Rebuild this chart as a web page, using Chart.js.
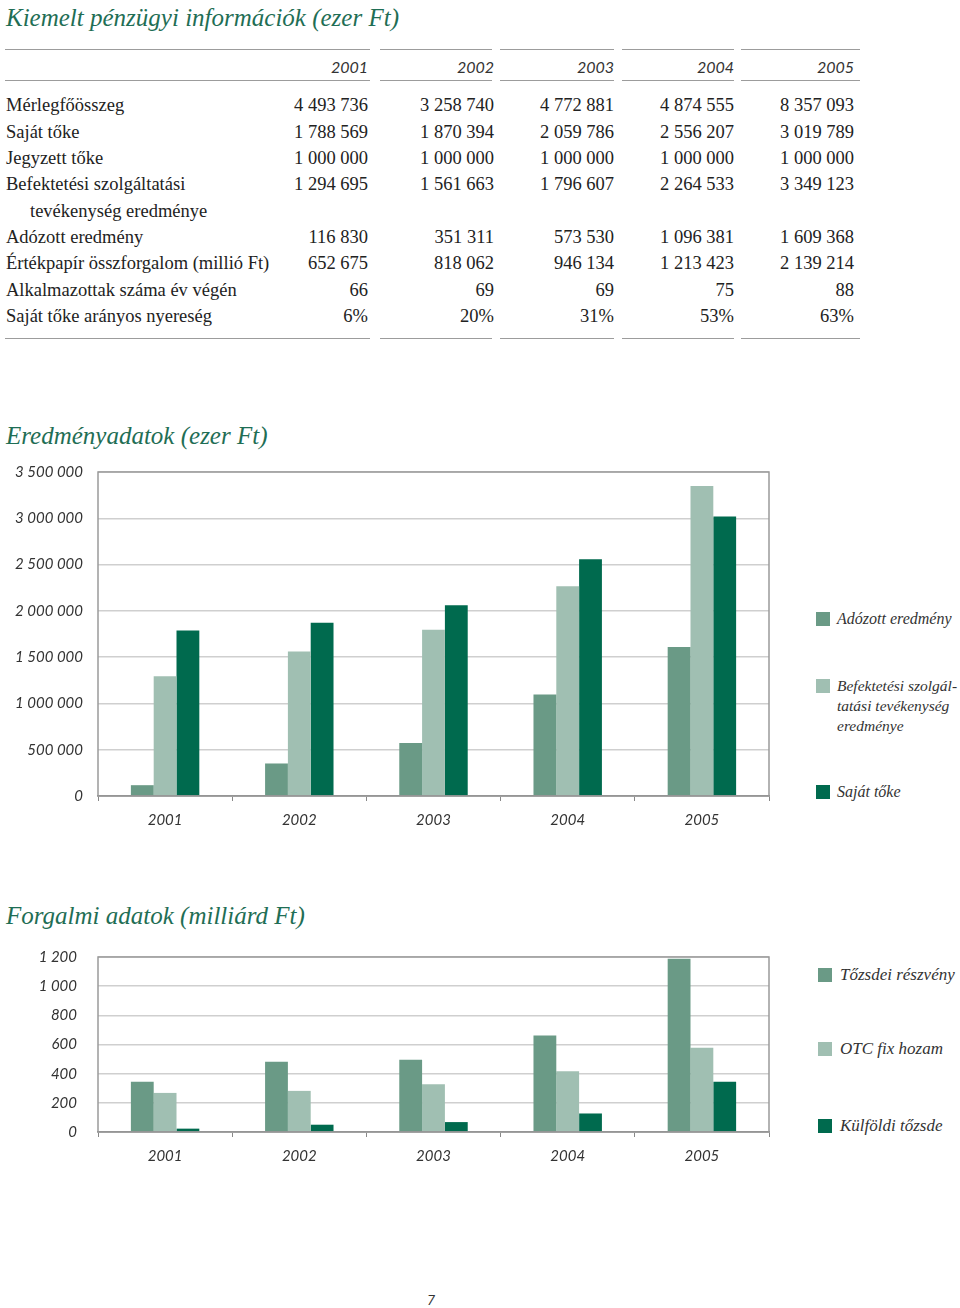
<!DOCTYPE html>
<html lang="hu">
<head>
<meta charset="utf-8">
<title>Kiemelt pénzügyi információk</title>
<script src="https://cdn.jsdelivr.net/npm/chart.js"></script>
<style>
    html, body { margin: 0; padding: 0; background: #fff; }
    #page { position: relative; width: 960px; height: 1308px; overflow: hidden; }
    .title {
        position: absolute; left: 6px; margin: 0;
        font-family: 'Liberation Serif', serif; font-style: italic; font-weight: normal;
        font-size: 25px; color: #1f6e55; line-height: 30px;
    }
    .rule { position: absolute; height: 0; border-top: 1.5px solid #9c9c9c; }
    .cell {
        position: absolute; font-family: 'Liberation Serif', serif; font-size: 18.5px;
        color: #222; line-height: 20px; white-space: nowrap;
    }
    .num { text-align: right; }
    .year {
        position: absolute; font-family: Lato, sans-serif; font-style: italic; font-size: 16px;
        color: #333; text-align: right; line-height: 20px;
    }
    .chartbox { position: absolute; left: 0; }
    .legend-item { position: absolute; font-family: 'Liberation Serif', serif; font-style: italic;
        font-size: 16px; color: #333; line-height: 20px; white-space: nowrap; }
    .legend-item span.sw { position: absolute; width: 14px; height: 14px; }
    #pageno { position: absolute; left: 427px; top: 1291px; font-family: Lato, sans-serif;
        font-style: italic; font-size: 14px; color: #333; }
</style>
</head>
<body>
<div id="page">
    <h1 class="title" style="top:3px">Kiemelt pénzügyi információk (ezer Ft)</h1>
    <div id="table"></div>

    <h1 class="title" style="top:421px">Eredményadatok (ezer Ft)</h1>
    <div class="chartbox" style="top:462px"><canvas id="eredmenyChart" width="780" height="372"></canvas></div>
    <div id="legend1"></div>

    <h1 class="title" style="top:901px">Forgalmi adatok (milliárd Ft)</h1>
    <div class="chartbox" style="top:947px"><canvas id="forgalomChart" width="780" height="223"></canvas></div>
    <div id="legend2"></div>

    <div id="pageno">7</div>
</div>

<script>
// Years / categories
const years = ['2001', '2002', '2003', '2004', '2005'];

// Table rows (ezer Ft)
const rowLabels = [
    'Mérlegfőösszeg',
    'Saját tőke',
    'Jegyzett tőke',
    'Befektetési szolgáltatási',
    'tevékenység  eredménye',
    'Adózott eredmény',
    'Értékpapír összforgalom (millió Ft)',
    'Alkalmazottak száma év végén',
    'Saját tőke arányos nyereség'
];
const merlegfoosszeg = ['4 493 736', '3 258 740', '4 772 881', '4 874 555', '8 357 093'];
const sajatTokeText = ['1 788 569', '1 870 394', '2 059 786', '2 556 207', '3 019 789'];
const jegyzettToke = ['1 000 000', '1 000 000', '1 000 000', '1 000 000', '1 000 000'];
const befektetesiText = ['1 294 695', '1 561 663', '1 796 607', '2 264 533', '3 349 123'];
const adozottText = ['116 830', '351 311', '573 530', '1 096 381', '1 609 368'];
const osszforgalom = ['652 675', '818 062', '946 134', '1 213 423', '2 139 214'];
const alkalmazottak = ['66', '69', '69', '75', '88'];
const nyereseg = ['6%', '20%', '31%', '53%', '63%'];

// Chart 1 series (ezer Ft)
const adozottEredmeny = [116830, 351311, 573530, 1096381, 1609368];
const befektetesiEredmeny = [1294695, 1561663, 1796607, 2264533, 3349123];
const sajatToke = [1788569, 1870394, 2059786, 2556207, 3019789];

// Chart 2 series (milliárd Ft)
const tozsdeiReszveny = [345, 481, 495, 661, 1188];
const otcFixHozam = [268, 282, 327, 416, 577];
const kulfoldiTozsde = [23, 50, 68, 127, 345];

const colors = ['#6a9a86', '#a0bfb2', '#006a4e'];

// ---------- Table ----------
function buildTable() {
    const table = document.getElementById('table');
    const colSegments = [[5, 370], [380, 492], [500, 614], [622, 734], [741, 860]];
    const colRight = [368, 494, 614, 734, 854];
    const rows = [merlegfoosszeg, sajatTokeText, jegyzettToke, befektetesiText, null,
                  adozottText, osszforgalom, alkalmazottak, nyereseg];
    const rowY = [104, 131, 157, 183, 210, 236, 262, 289, 315];

    [49, 80, 338].forEach(y => {
        colSegments.forEach(seg => {
            const r = document.createElement('div');
            r.className = 'rule';
            r.style.left = seg[0] + 'px';
            r.style.top = y + 'px';
            r.style.width = (seg[1] - seg[0]) + 'px';
            table.appendChild(r);
        });
    });

    years.forEach((yr, i) => {
        const d = document.createElement('div');
        d.className = 'year';
        d.textContent = yr;
        d.style.left = (colRight[i] - 100) + 'px';
        d.style.width = '100px';
        d.style.top = (67 - 10) + 'px';
        table.appendChild(d);
    });

    rowLabels.forEach((label, r) => {
        const d = document.createElement('div');
        d.className = 'cell';
        d.textContent = label;
        d.style.left = (r === 4 ? 30 : 6) + 'px';
        d.style.top = (rowY[r] - 9) + 'px';
        table.appendChild(d);

        const vals = rows[r];
        if (!vals) return;
        vals.forEach((v, i) => {
            const c = document.createElement('div');
            c.className = 'cell num';
            c.textContent = v;
            c.style.left = (colRight[i] - 120) + 'px';
            c.style.width = '120px';
            c.style.top = (rowY[r] - 9) + 'px';
            table.appendChild(c);
        });
    });
}

// ---------- Legends ----------
function buildLegend(id, items, swX, textX) {
    const box = document.getElementById(id);
    items.forEach((item, i) => {
        const d = document.createElement('div');
        d.className = 'legend-item';
        d.style.left = textX + 'px';
        d.style.top = (item.y - 10) + 'px';
        d.style.fontSize = item.size + 'px';
        d.innerHTML = item.lines.join('<br>');
        const sw = document.createElement('span');
        sw.className = 'sw';
        sw.style.background = colors[i];
        sw.style.left = (swX - textX) + 'px';
        sw.style.top = '3px';
        d.appendChild(sw);
        box.appendChild(d);
    });
}

// ---------- Charts ----------
function spaced(v) {
    return String(v).replace(/\B(?=(\d{3})+(?!\d))/g, ' ');
}

const framePlugin = {
    id: 'frame',
    afterDatasetsDraw(chart) {
        const { ctx, chartArea: a } = chart;
        ctx.save();
        ctx.strokeStyle = '#9a9a9a';
        ctx.lineWidth = 1.5;
        ctx.strokeRect(a.left, a.top, a.right - a.left, a.bottom - a.top);
        ctx.restore();
    }
};

function makeBarChart(canvasId, series, labels, yMax, yStep, yPad) {
    return new Chart(document.getElementById(canvasId), {
        type: 'bar',
        data: {
            labels: years,
            datasets: series.map((data, i) => ({
                label: labels[i],
                data: data,
                backgroundColor: colors[i],
                borderWidth: 0,
                barPercentage: 1,
                categoryPercentage: 0.51
            }))
        },
        options: {
            responsive: false,
            animation: false,
            layout: { padding: { top: 10, right: 11, left: 0, bottom: 0 } },
            plugins: { legend: { display: false }, tooltip: { enabled: false } },
            scales: {
                x: {
                    afterFit: scale => { scale.height = 38; },
                    grid: { drawOnChartArea: false, drawTicks: true, tickLength: 5, color: '#888', lineWidth: 1 },
                    border: { color: '#888', width: 1.5 },
                    ticks: {
                        padding: 10,
                        color: '#333',
                        font: { family: 'Lato', style: 'italic', size: 15 }
                    }
                },
                y: {
                    min: 0,
                    max: yMax,
                    afterFit: scale => {
                        // fixed axis width; keep tick padding from inflating the top gap
                        scale.width = 98;
                        scale.paddingTop = 9;
                        scale.paddingBottom = 9;
                    },
                    grid: { drawTicks: false, color: '#cfcfcf', lineWidth: 1.5 },
                    border: { display: false },
                    ticks: {
                        stepSize: yStep,
                        padding: yPad,
                        color: '#333',
                        font: { family: 'Lato', style: 'italic', size: 15 },
                        callback: v => spaced(v)
                    }
                }
            }
        },
        plugins: [framePlugin]
    });
}

document.addEventListener('DOMContentLoaded', function() {
    buildTable();

    makeBarChart('eredmenyChart',
        [adozottEredmeny, befektetesiEredmeny, sajatToke],
        ['Adózott eredmény', 'Befektetési szolgáltatási tevékenység eredménye', 'Saját tőke'],
        3500000, 500000, 15);

    buildLegend('legend1', [
        { y: 619, size: 16, lines: ['Adózott eredmény'] },
        { y: 686, size: 15.5, lines: ['Befektetési szolgál-', 'tatási tevékenység', 'eredménye'] },
        { y: 792, size: 16, lines: ['Saját tőke'] }
    ], 816, 837);

    makeBarChart('forgalomChart',
        [tozsdeiReszveny, otcFixHozam, kulfoldiTozsde],
        ['Tőzsdei részvény', 'OTC fix hozam', 'Külföldi tőzsde'],
        1200, 200, 21);

    buildLegend('legend2', [
        { y: 975, size: 17, lines: ['Tőzsdei részvény'] },
        { y: 1049, size: 17, lines: ['OTC fix hozam'] },
        { y: 1126, size: 17, lines: ['Külföldi tőzsde'] }
    ], 818, 840);
});
</script>
</body>
</html>
